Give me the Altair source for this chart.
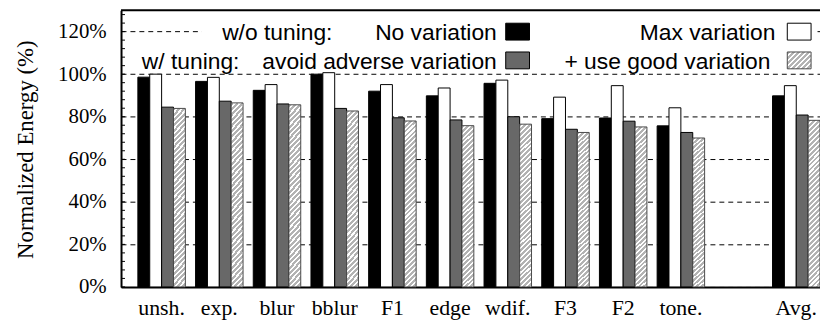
import altair as alt
import pandas as pd

# ---- data ----
categories = ["unsh.", "exp.", "blur", "bblur", "F1", "edge", "wdif.", "F3", "F2", "tone.", "Avg."]
no_var = [98.6, 96.6, 92.4, 100.0, 92.0, 89.8, 95.7, 79.1, 79.4, 75.7, 89.8]
max_var = [100.0, 98.5, 95.1, 100.7, 95.1, 93.5, 97.2, 89.2, 94.6, 84.2, 94.6]
avoid_adv = [84.5, 87.3, 86.0, 83.9, 79.5, 78.5, 80.0, 74.1, 77.9, 72.6, 80.8]
use_good = [83.9, 86.5, 85.6, 82.7, 78.0, 75.8, 76.5, 72.6, 75.2, 70.0, 78.3]
series_names = ["No variation", "Max variation", "avoid adverse variation", "+ use good variation"]
y_ticks = [0, 20, 40, 60, 80, 100, 120]
minor_ticks = list(range(0, 130, 4))

rows = []
for name, vals in zip(series_names, [no_var, max_var, avoid_adv, use_good]):
    for c, v in zip(categories, vals):
        rows.append({"bench": c, "series": name, "value": v})
df = pd.DataFrame(rows)

x_domain = categories[:-1] + [""] + categories[-1:]

W, H = 705, 279


def hatch(n, x2, y2, c1="#b3b3b3", c2="#ffffff", frac=0.58):
    stops = []
    for i in range(n):
        o0, o1, o2 = i / n, (i + frac) / n, (i + 1) / n
        stops += [
            alt.GradientStop(color=c1, offset=o0),
            alt.GradientStop(color=c1, offset=o1),
            alt.GradientStop(color=c2, offset=o1),
            alt.GradientStop(color=c2, offset=o2),
        ]
    return alt.LinearGradient(gradient="linear", stops=stops, x1=0, y1=0, x2=x2, y2=y2)


bar_hatch = hatch(36, 0.0761, 1.066)
legend_hatch = hatch(8, 1.125, 0.831)

yscale = alt.Scale(domain=[0, 130], nice=False, zero=True)
yaxis = alt.Axis(
    values=y_ticks, grid=True, gridDash=[5, 4], gridColor="black", gridWidth=1,
    ticks=False, tickSize=0, domainWidth=2, domainColor="black",
    labelFont="Liberation Serif", labelFontSize=21, labelColor="black", labelPadding=15,
    labelExpr="datum.value + '%'",
    title="Normalized Energy (%)", titleFont="Liberation Serif", titleFontSize=23,
    titleFontWeight="normal", titleColor="black", titleX=-89, titleY=140,
    titleAngle=270, titleBaseline="alphabetic", titleAlign="center",
)
xscale = alt.Scale(domain=x_domain, paddingInner=0.177, paddingOuter=0.146, align=1)
xaxis = alt.Axis(
    title=None, ticks=False, domainWidth=2, domainColor="black", grid=False,
    labelFont="Liberation Serif", labelFontSize=22, labelColor="black",
    labelPadding=11, labelAngle=0,
)
xoff = alt.XOffset("series:N", scale=alt.Scale(domain=series_names, paddingInner=0, paddingOuter=0))

solid = alt.Chart(df).transform_filter(
    alt.datum.series != series_names[3]
).mark_bar(stroke="black", strokeWidth=1).encode(
    x=alt.X("bench:N", scale=xscale, axis=xaxis),
    xOffset=xoff,
    y=alt.Y("value:Q", scale=yscale, axis=yaxis),
    fill=alt.Fill("series:N", scale=alt.Scale(domain=series_names[:3],
                  range=["#000000", "#ffffff", "#686868"]), legend=None),
)

hatched = alt.Chart(df).transform_filter(
    alt.datum.series == series_names[3]
).mark_bar(fill=bar_hatch, stroke="#4a4a4a", strokeWidth=1).encode(
    x=alt.X("bench:N", scale=xscale, axis=xaxis),
    xOffset=xoff,
    y=alt.Y("value:Q", scale=yscale, axis=yaxis),
)

ticks = alt.Chart(pd.DataFrame({"value": minor_ticks})).mark_rule(
    color="black", strokeWidth=1
).encode(
    y=alt.Y("value:Q", scale=yscale, axis=yaxis),
    x=alt.value(0), x2=alt.value(4),
)

one = pd.DataFrame({"k": [0]})
top_border = alt.Chart(one).mark_rule(color="black", strokeWidth=2).encode(
    y=alt.value(0), x=alt.value(0), x2=alt.value(W)
)

legend_bg = alt.Chart(one).mark_rect(fill="white").encode(
    x=alt.value(81), x2=alt.value(699), y=alt.value(8), y2=alt.value(34)
)


def txt(s, x, y, align):
    return alt.Chart(one).mark_text(
        text=s, font="Liberation Sans", fontSize=23, align=align,
        baseline="alphabetic", color="black"
    ).encode(x=alt.value(x), y=alt.value(y))


def box(x, y, fill, stroke="black"):
    return alt.Chart(one).mark_rect(fill=fill, stroke=stroke, strokeWidth=1).encode(
        x=alt.value(x), x2=alt.value(x + 24), y=alt.value(y), y2=alt.value(y + 17)
    )


legend = [
    legend_bg,
    txt("w/o tuning:", 102, 30, "left"),
    txt(series_names[0], 379, 30, "right"),
    box(388, 13, "#000000"),
    txt(series_names[1], 660, 30, "right"),
    box(672, 13, "#ffffff"),
    txt("w/ tuning:", 21, 59, "left"),
    txt(series_names[2], 379, 59, "right"),
    box(388, 42, "#686868"),
    txt(series_names[3], 655, 59, "right"),
    box(672, 42, legend_hatch, "#4a4a4a"),
]

chart = alt.layer(solid, hatched, ticks, top_border, *legend).properties(
    width=W, height=H,
    padding={"left": 114, "top": 1, "right": 0, "bottom": 33},
    autosize=alt.AutoSizeParams(type="none"),
).configure_view(stroke=None)

chart.save("out.html", embed_options={"renderer": "svg", "actions": False})
